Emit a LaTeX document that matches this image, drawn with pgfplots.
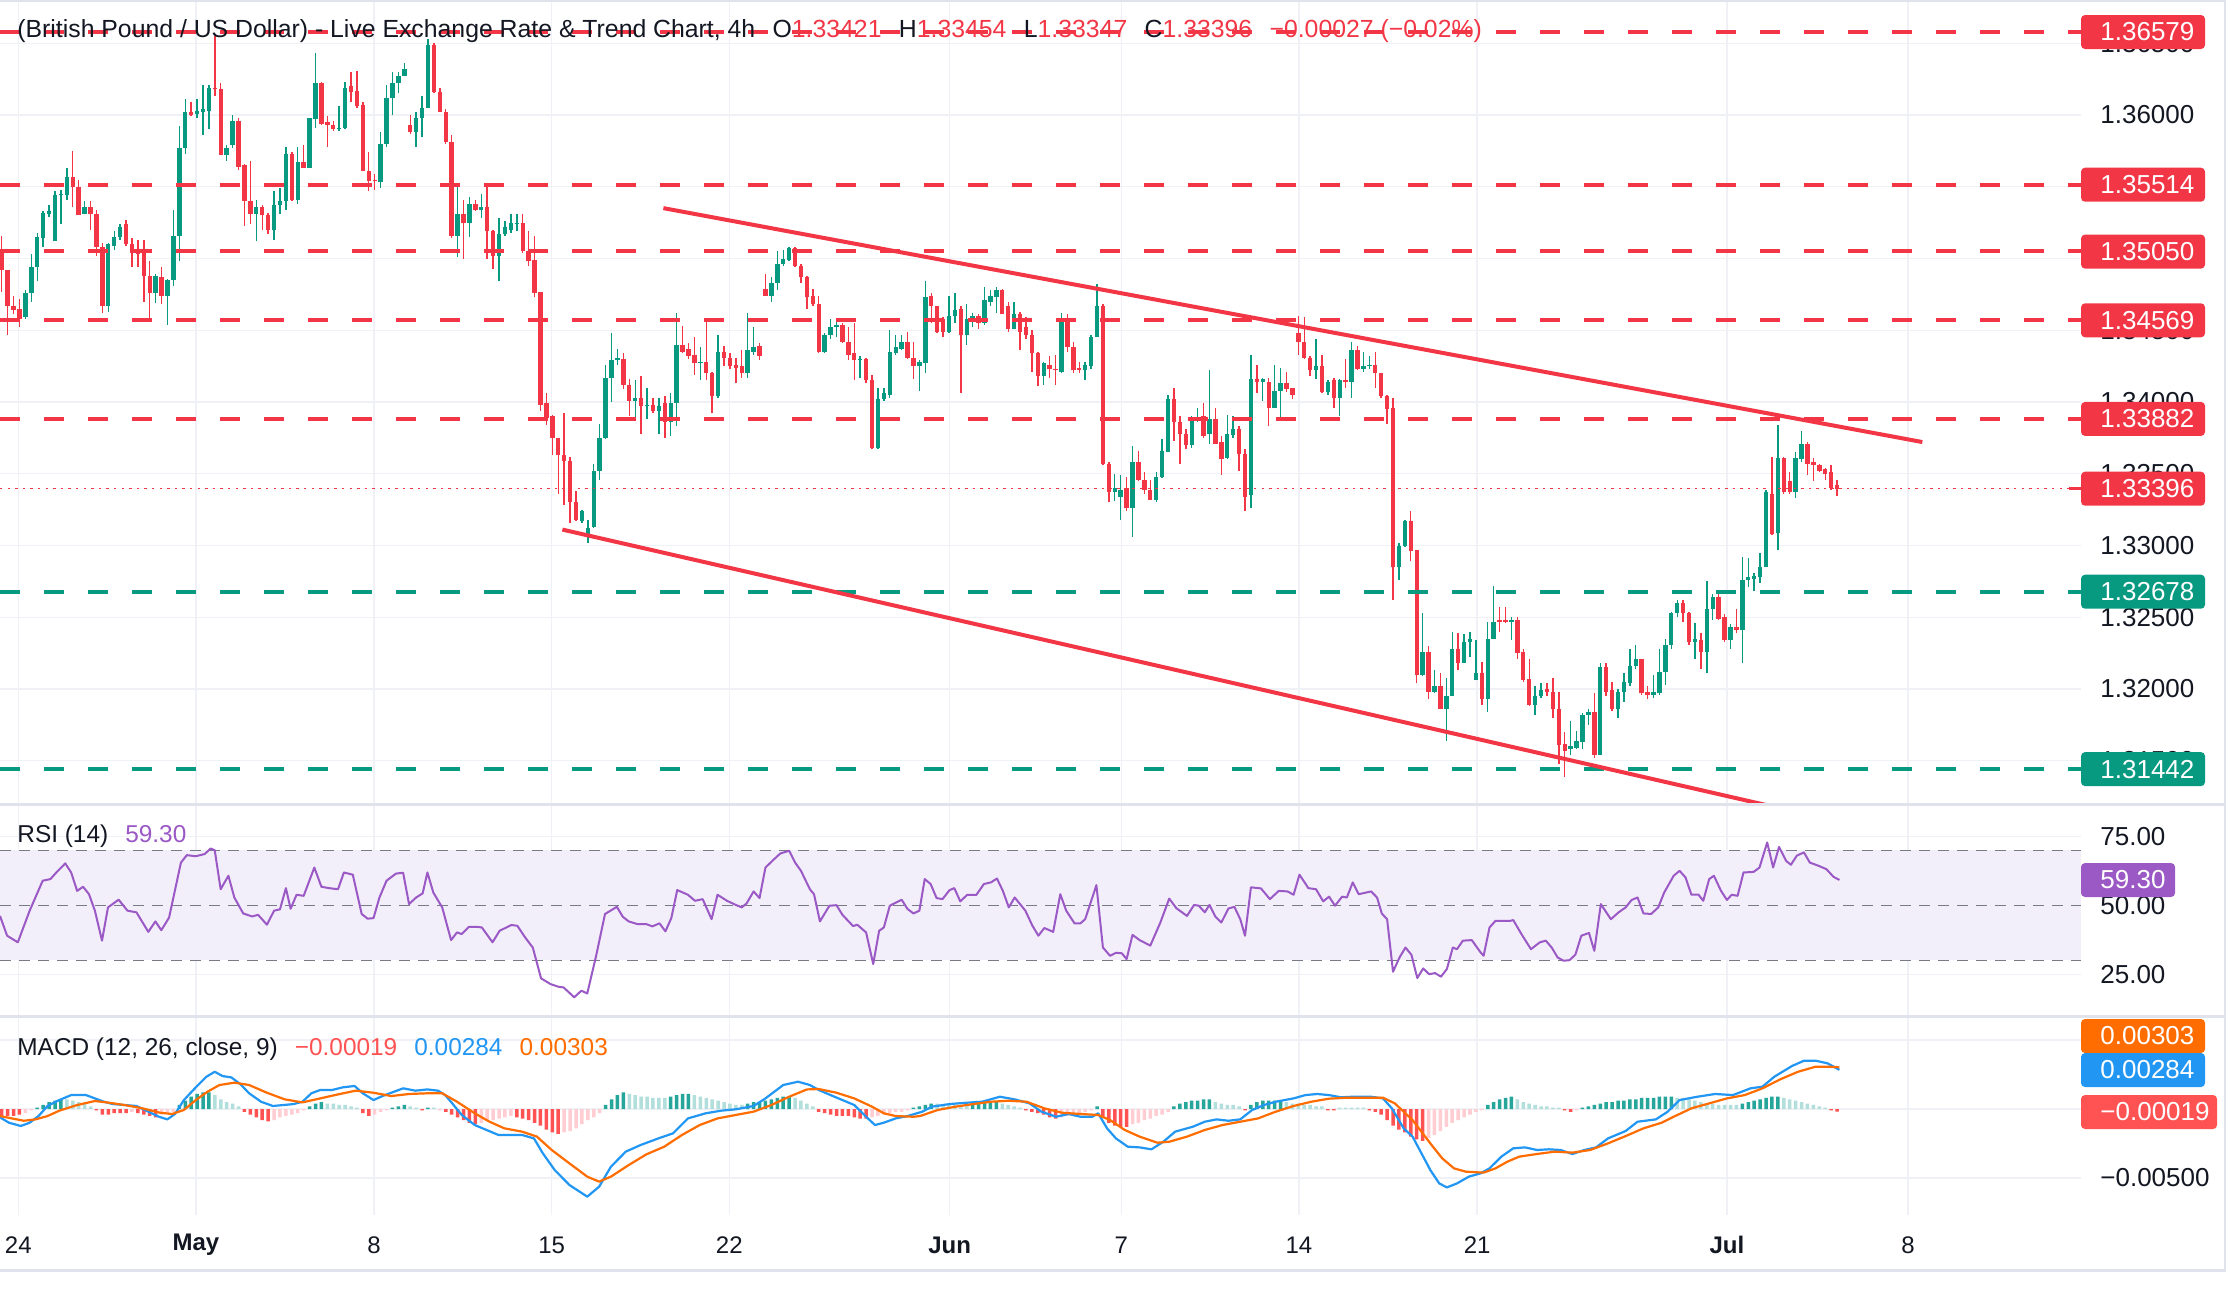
\documentclass[border=0pt]{standalone}
\usepackage{fontspec}
\setmainfont{Liberation Sans}
\usepackage{pgfplots}
\usepackage{pgfplotstable}
\pgfplotsset{compat=1.18}
\definecolor{upc}{HTML}{089981}
\definecolor{dnc}{HTML}{F23645}
\definecolor{txt}{HTML}{131722}
\definecolor{gridc}{HTML}{EFF1F6}
\definecolor{divc}{HTML}{E0E3EB}
\definecolor{rsic}{HTML}{9B59C6}
\definecolor{rsibg}{HTML}{F2EEFA}
\definecolor{rsid}{HTML}{787B86}
\definecolor{macdc}{HTML}{2196F3}
\definecolor{sigc}{HTML}{FF6D00}
\definecolor{hd}{HTML}{26A69A}
\definecolor{hl}{HTML}{B2DFDB}
\definecolor{hr}{HTML}{FF5252}
\definecolor{hp}{HTML}{FFCDD2}
\newcommand\tagfont{\fontsize{13}{15}\selectfont}
\newcommand\lblfont{\fontsize{12.2}{14}\selectfont}

\pgfplotstableread{
i O H L C
0 1.3504 1.3516 1.3477 1.3492
1 1.3492 1.3492 1.3447 1.3467
2 1.3467 1.3474 1.3461 1.3464
3 1.3465 1.3472 1.3452 1.3458
4 1.3459 1.3478 1.3458 1.3476
5 1.3476 1.3503 1.3470 1.3494
6 1.3494 1.3518 1.3484 1.3515
7 1.3514 1.3533 1.3508 1.3532
8 1.3531 1.3537 1.3529 1.3533
9 1.3512 1.3547 1.3512 1.3544
10 1.3544 1.3548 1.3524 1.3545
11 1.3544 1.3563 1.3541 1.3557
12 1.3557 1.3575 1.3536 1.3550
13 1.3550 1.3555 1.3530 1.3530
14 1.3531 1.3540 1.3531 1.3536
15 1.3536 1.3540 1.3520 1.3531
16 1.3531 1.3534 1.3502 1.3508
17 1.3508 1.3511 1.3462 1.3467
18 1.3467 1.3511 1.3463 1.3510
19 1.3509 1.3519 1.3506 1.3515
20 1.3515 1.3524 1.3513 1.3522
21 1.3524 1.3527 1.3509 1.3510
22 1.3510 1.3514 1.3494 1.3504
23 1.3505 1.3513 1.3494 1.3503
24 1.3504 1.3513 1.3470 1.3488
25 1.3488 1.3498 1.3456 1.3476
26 1.3476 1.3489 1.3469 1.3488
27 1.3487 1.3494 1.3468 1.3474
28 1.3474 1.3486 1.3454 1.3485
29 1.3485 1.3534 1.3481 1.3516
30 1.3516 1.3592 1.3498 1.3577
31 1.3577 1.3611 1.3573 1.3602
32 1.3602 1.3609 1.3599 1.3600
33 1.3601 1.3611 1.3598 1.3603
34 1.3602 1.3621 1.3586 1.3604
35 1.3603 1.3621 1.3590 1.3619
36 1.3619 1.3655 1.3613 1.3618
37 1.3618 1.3622 1.3572 1.3572
38 1.3572 1.3579 1.3568 1.3577
39 1.3579 1.3600 1.3577 1.3596
40 1.3596 1.3598 1.3562 1.3564
41 1.3565 1.3566 1.3523 1.3540
42 1.3540 1.3568 1.3524 1.3531
43 1.3531 1.3541 1.3512 1.3536
44 1.3536 1.3537 1.3520 1.3530
45 1.3530 1.3532 1.3517 1.3520
46 1.3520 1.3547 1.3513 1.3537
47 1.3537 1.3549 1.3531 1.3540
48 1.3540 1.3578 1.3534 1.3573
49 1.3573 1.3574 1.3540 1.3541
50 1.3541 1.3578 1.3538 1.3567
51 1.3567 1.3579 1.3563 1.3563
52 1.3563 1.3598 1.3563 1.3598
53 1.3597 1.3643 1.3591 1.3622
54 1.3622 1.3623 1.3593 1.3594
55 1.3595 1.3599 1.3578 1.3593
56 1.3593 1.3596 1.3589 1.3590
57 1.3590 1.3606 1.3589 1.3591
58 1.3591 1.3623 1.3590 1.3619
59 1.3620 1.3630 1.3609 1.3616
60 1.3617 1.3631 1.3605 1.3606
61 1.3607 1.3609 1.3561 1.3561
62 1.3561 1.3574 1.3547 1.3554
63 1.3555 1.3559 1.3548 1.3554
64 1.3553 1.3588 1.3549 1.3580
65 1.3580 1.3621 1.3578 1.3612
66 1.3612 1.3630 1.3600 1.3622
67 1.3622 1.3630 1.3615 1.3627
68 1.3627 1.3636 1.3627 1.3632
69 1.3593 1.3600 1.3587 1.3588
70 1.3588 1.3602 1.3578 1.3598
71 1.3598 1.3613 1.3585 1.3605
72 1.3605 1.3653 1.3605 1.3649
73 1.3649 1.3650 1.3615 1.3616
74 1.3616 1.3619 1.3602 1.3602
75 1.3602 1.3604 1.3580 1.3581
76 1.3581 1.3586 1.3514 1.3516
77 1.3516 1.3550 1.3501 1.3531
78 1.3531 1.3541 1.3500 1.3525
79 1.3525 1.3543 1.3515 1.3538
80 1.3538 1.3541 1.3533 1.3534
81 1.3534 1.3545 1.3528 1.3536
82 1.3536 1.3550 1.3500 1.3519
83 1.3519 1.3520 1.3493 1.3502
84 1.3502 1.3528 1.3484 1.3517
85 1.3517 1.3526 1.3516 1.3522
86 1.3520 1.3531 1.3518 1.3525
87 1.3524 1.3531 1.3519 1.3525
88 1.3525 1.3531 1.3504 1.3505
89 1.3505 1.3519 1.3495 1.3498
90 1.3499 1.3516 1.3473 1.3476
91 1.3477 1.3477 1.3394 1.3398
92 1.3399 1.3406 1.3384 1.3389
93 1.3390 1.3391 1.3363 1.3375
94 1.3375 1.3375 1.3336 1.3363
95 1.3363 1.3392 1.3328 1.3359
96 1.3359 1.3362 1.3316 1.3330
97 1.3330 1.3338 1.3317 1.3318
98 1.3317 1.3325 1.3316 1.3324
99 1.3308 1.3318 1.3302 1.3312
100 1.3313 1.3357 1.3312 1.3352
101 1.3352 1.3385 1.3346 1.3375
102 1.3375 1.3426 1.3374 1.3417
103 1.3417 1.3448 1.3400 1.3429
104 1.3429 1.3437 1.3426 1.3431
105 1.3430 1.3434 1.3409 1.3412
106 1.3412 1.3416 1.3390 1.3401
107 1.3401 1.3415 1.3387 1.3403
108 1.3403 1.3418 1.3378 1.3397
109 1.3397 1.3410 1.3388 1.3398
110 1.3398 1.3403 1.3392 1.3394
111 1.3394 1.3403 1.3378 1.3397
112 1.3399 1.3404 1.3375 1.3386
113 1.3386 1.3406 1.3376 1.3399
114 1.3399 1.3462 1.3383 1.3440
115 1.3440 1.3453 1.3434 1.3435
116 1.3437 1.3441 1.3430 1.3432
117 1.3433 1.3445 1.3419 1.3427
118 1.3427 1.3438 1.3415 1.3428
119 1.3428 1.3456 1.3415 1.3420
120 1.3420 1.3421 1.3392 1.3404
121 1.3404 1.3447 1.3403 1.3435
122 1.3435 1.3439 1.3425 1.3431
123 1.3431 1.3434 1.3423 1.3425
124 1.3426 1.3431 1.3413 1.3424
125 1.3425 1.3436 1.3417 1.3420
126 1.3420 1.3462 1.3417 1.3436
127 1.3435 1.3452 1.3433 1.3438
128 1.3439 1.3441 1.3429 1.3432
129 1.3479 1.3489 1.3474 1.3474
130 1.3474 1.3487 1.3470 1.3483
131 1.3483 1.3505 1.3478 1.3496
132 1.3496 1.3506 1.3495 1.3500
133 1.3499 1.3508 1.3498 1.3507
134 1.3507 1.3508 1.3494 1.3495
135 1.3495 1.3496 1.3483 1.3487
136 1.3487 1.3488 1.3465 1.3473
137 1.3474 1.3479 1.3467 1.3468
138 1.3468 1.3474 1.3434 1.3435
139 1.3435 1.3448 1.3434 1.3447
140 1.3447 1.3458 1.3444 1.3452
141 1.3452 1.3458 1.3445 1.3454
142 1.3454 1.3455 1.3441 1.3442
143 1.3442 1.3452 1.3429 1.3433
144 1.3434 1.3455 1.3415 1.3429
145 1.3429 1.3432 1.3417 1.3430
146 1.3430 1.3431 1.3413 1.3415
147 1.3415 1.3419 1.3367 1.3368
148 1.3368 1.3410 1.3367 1.3402
149 1.3402 1.3410 1.3401 1.3406
150 1.3405 1.3450 1.3403 1.3435
151 1.3434 1.3447 1.3433 1.3438
152 1.3437 1.3447 1.3436 1.3442
153 1.3442 1.3449 1.3430 1.3431
154 1.3431 1.3442 1.3416 1.3425
155 1.3425 1.3429 1.3408 1.3428
156 1.3427 1.3484 1.3420 1.3473
157 1.3474 1.3476 1.3455 1.3467
158 1.3467 1.3467 1.3448 1.3449
159 1.3458 1.3459 1.3445 1.3449
160 1.3449 1.3474 1.3448 1.3460
161 1.3460 1.3476 1.3455 1.3464
162 1.3465 1.3467 1.3406 1.3447
163 1.3447 1.3468 1.3440 1.3458
164 1.3458 1.3462 1.3452 1.3460
165 1.3460 1.3461 1.3451 1.3455
166 1.3455 1.3480 1.3454 1.3471
167 1.3470 1.3478 1.3467 1.3474
168 1.3473 1.3480 1.3462 1.3478
169 1.3478 1.3479 1.3461 1.3461
170 1.3467 1.3470 1.3449 1.3451
171 1.3451 1.3470 1.3451 1.3461
172 1.3461 1.3463 1.3436 1.3449
173 1.3452 1.3459 1.3444 1.3447
174 1.3447 1.3450 1.3421 1.3434
175 1.3434 1.3435 1.3411 1.3418
176 1.3418 1.3428 1.3412 1.3427
177 1.3426 1.3432 1.3417 1.3423
178 1.3423 1.3433 1.3412 1.3422
179 1.3421 1.3462 1.3420 1.3457
180 1.3457 1.3461 1.3435 1.3438
181 1.3438 1.3442 1.3420 1.3422
182 1.3424 1.3428 1.3420 1.3422
183 1.3422 1.3428 1.3415 1.3426
184 1.3425 1.3447 1.3423 1.3445
185 1.3445 1.3482 1.3445 1.3467
186 1.3467 1.3468 1.3356 1.3357
187 1.3357 1.3358 1.3330 1.3337
188 1.3337 1.3350 1.3331 1.3340
189 1.3334 1.3349 1.3318 1.3339
190 1.3340 1.3348 1.3324 1.3326
191 1.3326 1.3369 1.3306 1.3358
192 1.3358 1.3366 1.3345 1.3346
193 1.3346 1.3351 1.3336 1.3339
194 1.3339 1.3346 1.3332 1.3332
195 1.3332 1.3351 1.3330 1.3348
196 1.3348 1.3374 1.3347 1.3366
197 1.3365 1.3405 1.3365 1.3402
198 1.3402 1.3410 1.3373 1.3386
199 1.3386 1.3390 1.3357 1.3378
200 1.3378 1.3381 1.3367 1.3370
201 1.3370 1.3390 1.3368 1.3388
202 1.3388 1.3396 1.3386 1.3389
203 1.3390 1.3399 1.3375 1.3376
204 1.3378 1.3422 1.3371 1.3388
205 1.3388 1.3396 1.3371 1.3371
206 1.3372 1.3376 1.3349 1.3360
207 1.3361 1.3391 1.3360 1.3378
208 1.3377 1.3390 1.3375 1.3381
209 1.3381 1.3383 1.3352 1.3364
210 1.3364 1.3367 1.3324 1.3334
211 1.3335 1.3433 1.3326 1.3416
212 1.3416 1.3426 1.3406 1.3414
213 1.3414 1.3417 1.3401 1.3416
214 1.3414 1.3417 1.3383 1.3396
215 1.3396 1.3426 1.3396 1.3408
216 1.3408 1.3424 1.3388 1.3413
217 1.3413 1.3421 1.3407 1.3409
218 1.3410 1.3410 1.3402 1.3405
219 1.3448 1.3460 1.3433 1.3442
220 1.3442 1.3459 1.3430 1.3431
221 1.3431 1.3432 1.3418 1.3422
222 1.3422 1.3444 1.3416 1.3425
223 1.3425 1.3433 1.3406 1.3407
224 1.3407 1.3415 1.3405 1.3414
225 1.3415 1.3417 1.3396 1.3403
226 1.3403 1.3416 1.3390 1.3415
227 1.3415 1.3430 1.3410 1.3414
228 1.3414 1.3442 1.3403 1.3436
229 1.3436 1.3439 1.3422 1.3423
230 1.3423 1.3435 1.3421 1.3425
231 1.3425 1.3432 1.3423 1.3426
232 1.3426 1.3435 1.3410 1.3420
233 1.3420 1.3420 1.3403 1.3404
234 1.3404 1.3405 1.3385 1.3395
235 1.3396 1.3403 1.3262 1.3285
236 1.3285 1.3302 1.3276 1.3300
237 1.3300 1.3318 1.3299 1.3317
238 1.3317 1.3324 1.3289 1.3296
239 1.3297 1.3297 1.3204 1.3210
240 1.3210 1.3253 1.3209 1.3226
241 1.3226 1.3230 1.3193 1.3198
242 1.3198 1.3213 1.3197 1.3202
243 1.3202 1.3211 1.3186 1.3186
244 1.3186 1.3208 1.3164 1.3195
245 1.3195 1.3240 1.3195 1.3228
246 1.3228 1.3239 1.3213 1.3218
247 1.3218 1.3238 1.3218 1.3233
248 1.3233 1.3240 1.3222 1.3235
249 1.3206 1.3234 1.3206 1.3211
250 1.3211 1.3219 1.3189 1.3193
251 1.3193 1.3247 1.3184 1.3235
252 1.3235 1.3272 1.3235 1.3247
253 1.3248 1.3257 1.3240 1.3247
254 1.3248 1.3257 1.3246 1.3247
255 1.3247 1.3250 1.3234 1.3248
256 1.3248 1.3250 1.3221 1.3225
257 1.3226 1.3228 1.3205 1.3206
258 1.3207 1.3221 1.3188 1.3189
259 1.3189 1.3202 1.3182 1.3195
260 1.3195 1.3204 1.3194 1.3199
261 1.3200 1.3204 1.3195 1.3198
262 1.3198 1.3208 1.3180 1.3186
263 1.3186 1.3198 1.3148 1.3161
264 1.3162 1.3170 1.3139 1.3157
265 1.3158 1.3178 1.3154 1.3160
266 1.3159 1.3171 1.3158 1.3164
267 1.3163 1.3183 1.3158 1.3182
268 1.3182 1.3186 1.3175 1.3184
269 1.3184 1.3197 1.3152 1.3154
270 1.3154 1.3218 1.3154 1.3215
271 1.3215 1.3218 1.3195 1.3198
272 1.3199 1.3205 1.3185 1.3186
273 1.3186 1.3200 1.3180 1.3198
274 1.3198 1.3211 1.3191 1.3205
275 1.3204 1.3228 1.3202 1.3216
276 1.3216 1.3231 1.3214 1.3221
277 1.3221 1.3221 1.3196 1.3197
278 1.3198 1.3202 1.3193 1.3196
279 1.3196 1.3210 1.3194 1.3198
280 1.3197 1.3228 1.3196 1.3212
281 1.3212 1.3235 1.3203 1.3231
282 1.3231 1.3254 1.3228 1.3253
283 1.3253 1.3262 1.3250 1.3260
284 1.3260 1.3262 1.3247 1.3253
285 1.3253 1.3254 1.3231 1.3233
286 1.3233 1.3246 1.3221 1.3235
287 1.3234 1.3239 1.3214 1.3226
288 1.3226 1.3275 1.3211 1.3256
289 1.3256 1.3266 1.3248 1.3264
290 1.3264 1.3266 1.3248 1.3249
291 1.3250 1.3252 1.3233 1.3234
292 1.3234 1.3245 1.3228 1.3243
293 1.3243 1.3256 1.3239 1.3241
294 1.3241 1.3292 1.3218 1.3276
295 1.3276 1.3291 1.3271 1.3278
296 1.3277 1.3281 1.3268 1.3279
297 1.3278 1.3295 1.3274 1.3285
298 1.3285 1.3339 1.3285 1.3337
299 1.3336 1.3362 1.3307 1.3308
300 1.3309 1.3384 1.3297 1.3361
301 1.3361 1.3362 1.3336 1.3337
302 1.3345 1.3351 1.3336 1.3337
303 1.3337 1.3365 1.3333 1.3361
304 1.3360 1.3380 1.3358 1.3371
305 1.3371 1.3372 1.3349 1.3357
306 1.3358 1.3361 1.3345 1.3356
307 1.3356 1.3357 1.3351 1.3352
308 1.3353 1.3354 1.3346 1.3350
309 1.3351 1.3356 1.3339 1.3340
310 1.33421 1.33454 1.33347 1.33396
}\candles

\pgfplotsset{tv/.style={scale only axis, width=1040.5pt, xmin=-0.29, xmax=351.2,
  anchor=north west, axis line style={draw=none}, major tick length=0pt,
  scaled y ticks=false, scaled x ticks=false,
  xtick={2.8,32.8,62.9,92.9,122.9,160.1,189.1,219.1,249.2,291.4,322.0},
  xticklabels={}, xmajorgrids, ymajorgrids,
  grid style={draw=gridc, line width=0.7pt},
  yticklabel pos=right,
  yticklabel style={anchor=west, inner sep=0pt, xshift=9.5pt, font=\tagfont, text=txt}},
  lvl/.style={line width=1.9pt, dash pattern=on 10pt off 12pt},
  candle/.style={draw=none, mark=none}}

\begin{document}
\begin{tikzpicture}[x=0.5pt, y=0.5pt]
\fill[white] (0,0) rectangle (2226,-1292);
\useasboundingbox (0,0) rectangle (2226,-1292);

% ---------------- price panel ----------------
\begin{axis}[tv, at={(0pt,0pt)}, height=401.5pt, ymin=1.312056, ymax=1.368014, clip mode=individual,
  ytick={1.315,1.32,1.325,1.33,1.335,1.34,1.345,1.35,1.355,1.36,1.365},
  yticklabels={1.31500,1.32000,1.32500,1.33000,1.33500,1.34000,1.34500,1.35000,1.35500,1.36000,1.36500}]
% wicks
\addplot[candle, restrict expr to domain={\thisrow{C}-\thisrow{O}}{0:1},
  error bars/.cd, y dir=plus, y explicit, error mark=none, error bar style={line width=0.7pt, draw=upc}]
  table[x=i, y=L, y error plus expr={\thisrow{H}-\thisrow{L}}] {\candles};
\addplot[candle, restrict expr to domain={\thisrow{C}-\thisrow{O}}{-1:-0.000001},
  error bars/.cd, y dir=plus, y explicit, error mark=none, error bar style={line width=0.7pt, draw=dnc}]
  table[x=i, y=L, y error plus expr={\thisrow{H}-\thisrow{L}}] {\candles};
% bodies
\addplot[candle, restrict expr to domain={\thisrow{C}-\thisrow{O}}{0:1},
  error bars/.cd, y dir=plus, y explicit, error mark=none, error bar style={line width=2.2pt, draw=upc}]
  table[x=i, y expr={min(\thisrow{O},\thisrow{C})}, y error plus expr={max(abs(\thisrow{C}-\thisrow{O}),0.00007)}] {\candles};
\addplot[candle, restrict expr to domain={\thisrow{C}-\thisrow{O}}{-1:-0.000001},
  error bars/.cd, y dir=plus, y explicit, error mark=none, error bar style={line width=2.2pt, draw=dnc}]
  table[x=i, y expr={min(\thisrow{O},\thisrow{C})}, y error plus expr={max(abs(\thisrow{C}-\thisrow{O}),0.00007)}] {\candles};
% levels
\addplot[dnc, lvl] coordinates {(-0.29,1.36579)(351.2,1.36579)};
\addplot[dnc, lvl] coordinates {(-0.29,1.35514)(351.2,1.35514)};
\addplot[dnc, lvl] coordinates {(-0.29,1.35050)(351.2,1.35050)};
\addplot[dnc, lvl] coordinates {(-0.29,1.34569)(351.2,1.34569)};
\addplot[dnc, lvl] coordinates {(-0.29,1.33882)(351.2,1.33882)};
\addplot[upc, lvl] coordinates {(-0.29,1.32678)(351.2,1.32678)};
\addplot[upc, lvl] coordinates {(-0.29,1.31442)(351.2,1.31442)};
\addplot[dnc, line width=0.7pt, dash pattern=on 1.2pt off 2.6pt] coordinates {(-0.29,1.33396)(351.2,1.33396)};
% trend lines
\addplot[dnc, line width=2pt] coordinates {(111.76,1.35351)(324.4,1.33721)};
\addplot[dnc, line width=2pt] coordinates {(94.70,1.33111)(303.8,1.31137)};
\end{axis}

% ---------------- RSI panel ----------------
\begin{axis}[tv, at={(0pt,-402.5pt)}, height=105pt, ymin=10.16, ymax=86.53,
  ytick={25,50,75}, yticklabels={25.00,50.00,75.00}]
\fill[rsibg] (axis cs:-0.29,30) rectangle (axis cs:351.2,70);
\addplot[rsid, line width=0.9pt, dash pattern=on 5.3pt off 4.2pt] coordinates {(-0.29,70)(351.2,70)};
\addplot[rsid, line width=0.9pt, dash pattern=on 5.3pt off 4.2pt] coordinates {(-0.29,50)(351.2,50)};
\addplot[rsid, line width=0.9pt, dash pattern=on 5.3pt off 4.2pt] coordinates {(-0.29,30)(351.2,30)};
\addplot[rsic, line width=1pt, line join=round] coordinates {
(-0.29,46.2)(0.91,39.0)(2.72,36.6)(4.72,48.1)(6.92,59.0)(8.23,59.6)(9.23,62.0)(10.73,65.3)(11.73,62.0)(12.74,55.3)(13.74,56.8)(14.74,54.1)(15.74,48.1)(16.94,37.2)(17.95,49.3)(19.75,52.1)(21.25,48.1)(22.76,47.5)(24.76,40.4)(25.96,44.2)(26.96,41.0)(28.27,45.6)(30.27,65.6)(31.27,68.3)(32.78,67.9)(34.28,68.7)(35.28,70.7)(35.98,70.1)(36.98,55.9)(38.29,60.8)(39.29,52.9)(40.79,47.1)(42.30,46.0)(43.30,46.6)(44.80,43.0)(46.0,48.1)(47.0,48.6)(48.0,56.3)(48.8,48.8)(49.8,53.9)(51.0,53.5)(52.8,63.8)(54.0,56.8)(55.3,56.3)(56.8,55.9)(57.8,62.0)(59.3,61.2)(60.8,46.9)(61.8,45.2)(62.8,45.4)(63.8,52.9)(65.0,59.0)(66.6,61.6)(67.8,61.9)(68.8,50.5)(70.0,52.9)(71.1,54.4)(71.9,62.0)(72.9,54.7)(74.4,49.3)(75.9,37.4)(76.9,40.2)(77.7,39.6)(78.9,42.2)(80.4,42.2)(81.1,42.0)(82.9,36.6)(84.1,40.8)(86.1,42.9)(87.1,42.6)(88.4,38.4)(89.7,34.7)(91.1,23.5)(92.7,21.4)(94.1,20.4)(94.9,20.2)(96.7,16.6)(97.9,19.0)(98.9,18.0)(100.4,31.7)(101.9,46.9)(103.9,49.5)(104.9,45.9)(105.9,44.2)(107.4,43.2)(108.9,43.2)(109.9,42.4)(111.1,43.5)(112.1,40.6)(113.1,45.4)(114.1,55.6)(115.9,53.9)(117.1,51.7)(118.4,52.3)(119.9,45.0)(120.9,53.9)(122.5,51.7)(124.0,50.2)(125.0,49.3)(125.8,50.7)(127.0,55.1)(128.0,52.7)(129.0,63.8)(130.5,66.9)(131.5,68.9)(133.0,69.9)(134.0,65.6)(135.0,62.6)(136.5,55.9)(137.2,54.1)(138.2,44.2)(139.8,49.9)(141.0,50.1)(142.0,46.6)(143.8,42.5)(144.5,43.0)(146.0,40.2)(147.2,28.7)(148.2,40.8)(149.0,42.0)(150.0,49.9)(152.0,52.1)(153.0,48.7)(154.0,47.1)(155.0,48.1)(155.9,59.6)(156.9,57.8)(157.9,52.7)(158.9,52.3)(160.1,55.6)(160.9,56.3)(161.9,51.5)(163.1,53.9)(164.6,53.8)(165.9,57.8)(167.1,58.4)(168.1,59.8)(169.1,55.3)(170.1,49.3)(171.1,52.9)(172.9,48.1)(174.1,42.6)(175.1,39.0)(176.1,41.8)(177.6,40.4)(178.8,54.1)(179.8,48.1)(181.2,43.5)(182.2,43.5)(183.0,45.0)(184.9,57.4)(186.0,34.7)(187.2,31.7)(188.2,32.8)(189.2,32.6)(190.0,30.5)(191.0,39.3)(192.2,37.4)(194.0,35.4)(195.7,43.8)(197.2,52.5)(198.4,49.0)(200.2,46.2)(201.4,50.2)(202.2,49.9)(203.2,47.5)(204.0,50.2)(205.0,45.9)(206.0,43.8)(207.2,48.9)(208.2,49.5)(209.2,45.0)(210.0,39.0)(211.0,56.6)(212.7,56.2)(214.2,52.3)(215.7,55.3)(217.2,55.1)(218.2,53.9)(219.2,61.2)(220.7,56.3)(222.0,55.9)(223.2,51.5)(224.2,53.2)(225.2,49.9)(226.4,53.2)(227.2,52.9)(228.2,58.4)(229.2,54.1)(231.3,55.1)(232.3,52.9)(233.1,47.1)(234.0,45.0)(235.0,25.9)(236.1,31.1)(237.1,34.7)(238.1,32.1)(239.1,23.6)(240.1,27.1)(241.1,25.0)(242.1,25.4)(243.1,24.1)(244.1,26.9)(245.1,34.7)(245.8,34.1)(246.8,37.2)(248.3,37.4)(249.8,32.9)(250.3,31.7)(251.3,42.0)(252.3,44.4)(254.8,44.4)(255.3,44.7)(256.8,39.2)(258.3,34.1)(259.8,36.6)(260.8,37.2)(261.8,34.7)(262.8,31.1)(263.8,29.9)(264.8,30.1)(265.8,32.1)(266.8,39.0)(268.1,40.0)(269.0,33.5)(270.1,50.5)(271.8,45.0)(273.1,47.5)(274.3,49.3)(275.3,52.0)(276.3,52.9)(277.3,47.1)(278.6,46.9)(279.8,49.3)(280.8,54.7)(282.4,60.8)(283.4,62.6)(284.4,60.2)(285.4,53.9)(286.6,53.9)(287.4,51.7)(288.4,59.6)(289.2,60.8)(290.4,55.3)(291.4,52.0)(292.2,53.9)(293.2,53.5)(294.2,62.0)(295.9,62.2)(296.9,63.8)(298.2,72.9)(299.2,63.8)(300.2,71.3)(301.4,66.2)(302.2,64.8)(303.2,68.1)(304.4,69.3)(305.4,65.6)(306.9,64.4)(308.2,63.2)(309.4,60.4)(310.4,59.3)};
\end{axis}

% ---------------- MACD panel ----------------
\begin{axis}[tv, at={(0pt,-508.5pt)}, height=99pt, ymin=-0.007681, ymax=0.006667,
  ytick={-0.005,0,0.005}, yticklabels={−0.00500,0.00000,0.00500},
  xticklabels={24,\textbf{May},8,15,22,\textbf{Jun},7,14,21,\textbf{Jul},8},
  xticklabel style={anchor=center, inner sep=0pt, yshift=-15pt, font=\fontsize{12}{14}\selectfont, text=txt}]
\addplot[ybar, bar width=1.75pt, bar shift=0pt, fill=hr, draw=none] coordinates {
(0,-0.0005)(1,-0.0005)(2,-0.0005)(3,-0.0004)(16,-0.0001)(17,-0.0004)(18,-0.0004)(19,-0.0003)(20,-0.0003)(21,-0.0003)(23,-0.0003)(24,-0.0004)(25,-0.0005)(26,-0.0006)(41,-0.0002)(42,-0.0004)(43,-0.0006)(44,-0.0008)(45,-0.0009)(61,-0.0003)(62,-0.0005)(71,-0.0001)(75,-0.0002)(76,-0.0004)(77,-0.0006)(78,-0.0008)(79,-0.0010)(80,-0.0011)(87,-0.0006)(88,-0.0007)(89,-0.0008)(90,-0.0010)(91,-0.0012)(92,-0.0015)(93,-0.0017)(94,-0.0018)(138,-0.0002)(139,-0.0003)(140,-0.0004)(141,-0.0005)(142,-0.0005)(143,-0.0005)(144,-0.0006)(145,-0.0007)(146,-0.0007)(173,-0.0001)(174,-0.0002)(175,-0.0003)(176,-0.0004)(177,-0.0006)(178,-0.0007)(186,-0.0006)(187,-0.0010)(188,-0.0012)(189,-0.0013)(190,-0.0013)(210,-0.0001)(224,-0.0001)(225,-0.0001)(231,-0.0001)(232,-0.0002)(233,-0.0004)(234,-0.0008)(235,-0.0012)(236,-0.0015)(237,-0.0017)(238,-0.0020)(239,-0.0022)(240,-0.0023)(264,-0.0001)(265,-0.0002)(309,-0.0001)(310,-0.00019)};
\addplot[ybar, bar width=1.75pt, bar shift=0pt, fill=hp, draw=none] coordinates {
(4,-0.0003)(5,-0.0001)(22,-0.0002)(27,-0.0004)(28,-0.0003)(29,-0.0002)(46,-0.0008)(47,-0.0006)(48,-0.0005)(49,-0.0004)(50,-0.0003)(51,-0.0001)(63,-0.0004)(64,-0.0002)(65,-0.0001)(74,-0.0001)(81,-0.0010)(82,-0.0009)(83,-0.0008)(84,-0.0007)(85,-0.0006)(86,-0.0005)(95,-0.0017)(96,-0.0016)(97,-0.0014)(98,-0.0011)(99,-0.0008)(100,-0.0006)(101,-0.0003)(147,-0.0006)(148,-0.0005)(149,-0.0004)(150,-0.0003)(151,-0.0002)(152,-0.0002)(153,-0.0001)(179,-0.0006)(180,-0.0005)(181,-0.0004)(182,-0.0003)(183,-0.0002)(184,-0.0001)(191,-0.0011)(192,-0.0010)(193,-0.0008)(194,-0.0007)(195,-0.0005)(196,-0.0004)(197,-0.0002)(241,-0.0021)(242,-0.0019)(243,-0.0016)(244,-0.0013)(245,-0.0010)(246,-0.0008)(247,-0.0006)(248,-0.0004)(249,-0.0002)(250,-0.0001)(266,-0.0001)};
\addplot[ybar, bar width=1.75pt, bar shift=0pt, fill=hd, draw=none] coordinates {
(6,0.0001)(7,0.0003)(8,0.0005)(9,0.0006)(10,0.0007)(30,0.0003)(31,0.0006)(32,0.0009)(33,0.0011)(34,0.0012)(35,0.0012)(52,0.0002)(53,0.0004)(54,0.0005)(66,0.0001)(67,0.0002)(68,0.0003)(72,0.0001)(102,0.0003)(103,0.0007)(104,0.0010)(105,0.0012)(113,0.0009)(114,0.0010)(115,0.0011)(116,0.0011)(126,0.0004)(127,0.0005)(128,0.0005)(129,0.0006)(130,0.0007)(131,0.0008)(132,0.0009)(133,0.0009)(154,0.0001)(155,0.0002)(156,0.0003)(157,0.0004)(164,0.0004)(165,0.0004)(166,0.0005)(167,0.0005)(168,0.0005)(185,0.0002)(198,0.0002)(199,0.0004)(200,0.0005)(201,0.0006)(202,0.0006)(203,0.0007)(204,0.0007)(211,0.0003)(212,0.0005)(213,0.0006)(214,0.0006)(215,0.0006)(216,0.0006)(251,0.0003)(252,0.0005)(253,0.0007)(254,0.0008)(255,0.0009)(267,0.0001)(268,0.0002)(269,0.0003)(270,0.0004)(271,0.0005)(272,0.0005)(273,0.0006)(274,0.0006)(275,0.0007)(276,0.0007)(277,0.0008)(278,0.0008)(279,0.0008)(280,0.0009)(281,0.0009)(282,0.0009)(294,0.0004)(295,0.0005)(296,0.0006)(297,0.0007)(298,0.0008)(299,0.0009)(300,0.0009)};
\addplot[ybar, bar width=1.75pt, bar shift=0pt, fill=hl, draw=none] coordinates {
(11,0.0007)(12,0.0006)(13,0.0005)(14,0.0004)(15,0.0002)(36,0.0010)(37,0.0007)(38,0.0005)(39,0.0004)(40,0.0002)(55,0.0004)(56,0.0004)(57,0.0003)(58,0.0003)(59,0.0002)(60,0.0001)(69,0.0002)(70,0.0001)(73,0.0001)(106,0.0011)(107,0.0010)(108,0.0009)(109,0.0009)(110,0.0008)(111,0.0008)(112,0.0008)(117,0.0010)(118,0.0009)(119,0.0008)(120,0.0007)(121,0.0006)(122,0.0005)(123,0.0004)(124,0.0003)(125,0.0003)(134,0.0008)(135,0.0006)(136,0.0004)(137,0.0002)(158,0.0004)(159,0.0003)(160,0.0003)(161,0.0003)(162,0.0003)(163,0.0003)(169,0.0004)(170,0.0003)(171,0.0002)(172,0.0001)(205,0.0005)(206,0.0004)(207,0.0003)(208,0.0003)(209,0.0002)(217,0.0005)(218,0.0004)(219,0.0004)(220,0.0003)(221,0.0003)(222,0.0002)(223,0.0002)(226,0.0001)(227,0.0001)(228,0.0001)(229,0.0001)(230,0.0001)(256,0.0007)(257,0.0005)(258,0.0004)(259,0.0003)(260,0.0002)(261,0.0002)(262,0.0001)(263,0.0001)(283,0.0008)(284,0.0008)(285,0.0007)(286,0.0006)(287,0.0005)(288,0.0004)(289,0.0004)(290,0.0003)(291,0.0003)(292,0.0003)(293,0.0003)(301,0.0008)(302,0.0007)(303,0.0006)(304,0.0005)(305,0.0004)(306,0.0003)(307,0.0002)(308,0.0001)};
% MACD line
\addplot[macdc, line width=1.1pt, line join=round] coordinates {
(-0.29,-0.00060)(1.21,-0.00099)(3.22,-0.00123)(4.72,-0.00099)(6.22,-0.00051)(7.73,0.00022)(9.73,0.00065)(11.73,0.00101)(14.24,0.00101)(15.74,0.00077)(17.25,0.00053)(18.75,0.00036)(20.75,0.00029)(22.76,0.00022)(24.76,-0.00019)(26.56,-0.00056)(27.97,-0.00075)(29.27,-0.00036)(30.77,0.00065)(32.78,0.00157)(34.58,0.00234)(35.98,0.00270)(37.29,0.00239)(38.79,0.00229)(40.29,0.00181)(41.79,0.00114)(43.80,0.00053)(45.80,0.00022)(47.6,0.00029)(49.3,0.00036)(50.8,0.00053)(52.3,0.00114)(53.8,0.00138)(55.8,0.00138)(57.6,0.00157)(59.6,0.00167)(61.0,0.00114)(62.8,0.00065)(64.3,0.00094)(65.8,0.00118)(67.8,0.00150)(69.9,0.00133)(71.9,0.00142)(73.7,0.00133)(74.9,0.00101)(76.1,0.00041)(77.7,-0.00043)(79.9,-0.00116)(81.9,-0.00152)(83.9,-0.00188)(85.9,-0.00188)(87.9,-0.00188)(89.9,-0.00213)(91.4,-0.00321)(93.4,-0.00442)(95.9,-0.00551)(98.9,-0.00635)(100.9,-0.00563)(102.9,-0.00418)(105.4,-0.00309)(107.9,-0.00261)(110.9,-0.00213)(113.4,-0.00176)(115.9,-0.00068)(118.9,-0.00031)(121.5,-0.00012)(124.0,-0.00002)(127.0,0.00022)(129.0,0.00077)(132.0,0.00174)(134.5,0.00198)(136.5,0.00174)(138.0,0.00138)(140.0,0.00101)(142.0,0.00065)(144.0,0.00029)(146.0,-0.00056)(147.5,-0.00116)(149.0,-0.00099)(151.0,-0.00068)(153.0,-0.00051)(155.5,-0.00019)(157.1,0.00017)(160.1,0.00036)(163.1,0.00046)(165.6,0.00053)(168.6,0.00089)(171.1,0.00070)(173.6,0.00041)(175.6,-0.00019)(178.1,-0.00056)(180.2,-0.00036)(182.2,-0.00056)(184.2,-0.00056)(185.2,-0.00031)(186.7,-0.00140)(188.2,-0.00213)(190.2,-0.00273)(192.2,-0.00278)(194.2,-0.00292)(196.2,-0.00237)(198.2,-0.00164)(201.2,-0.00128)(203.2,-0.00092)(205.2,-0.00075)(207.2,-0.00085)(209.2,-0.00075)(211.2,-0.00007)(213.2,0.00029)(215.2,0.00053)(218.2,0.00077)(220.2,0.00101)(222.2,0.00109)(224.2,0.00101)(226.2,0.00085)(228.2,0.00089)(231.3,0.00089)(233.3,0.00077)(234.8,0.00005)(236.8,-0.00140)(238.3,-0.00200)(239.8,-0.00321)(241.3,-0.00442)(242.8,-0.00539)(244.1,-0.00568)(245.8,-0.00539)(247.8,-0.00490)(249.8,-0.00466)(251.3,-0.00430)(253.3,-0.00345)(255.3,-0.00285)(257.3,-0.00278)(259.3,-0.00297)(261.3,-0.00292)(263.3,-0.00297)(265.3,-0.00326)(267.3,-0.00297)(269.3,-0.00278)(271.3,-0.00213)(274.3,-0.00159)(276.3,-0.00092)(279.4,-0.00075)(281.4,-0.00019)(283.4,0.00065)(286.4,0.00089)(289.4,0.00109)(292.4,0.00101)(295.4,0.00150)(297.4,0.00162)(299.4,0.00234)(302.4,0.00312)(304.4,0.00350)(306.4,0.00350)(308.4,0.00331)(310.4,0.00284)};
% signal line
\addplot[sigc, line width=1.1pt, line join=round] coordinates {
(-0.29,-0.00051)(1.71,-0.00068)(3.72,-0.00085)(5.72,-0.00075)(7.73,-0.00051)(9.73,-0.00012)(12.74,0.00029)(15.74,0.00058)(17.75,0.00048)(20.75,0.00029)(23.76,0.00005)(26.76,-0.00027)(28.77,-0.00036)(30.77,-0.00007)(32.78,0.00065)(34.78,0.00126)(36.78,0.00174)(39.29,0.00191)(41.79,0.00174)(44.80,0.00118)(47.8,0.00070)(50.8,0.00048)(53.8,0.00077)(56.8,0.00106)(59.8,0.00133)(62.8,0.00118)(65.8,0.00094)(68.8,0.00109)(71.9,0.00114)(74.4,0.00114)(76.9,0.00053)(79.9,-0.00031)(82.4,-0.00092)(84.9,-0.00140)(87.9,-0.00164)(90.4,-0.00200)(92.9,-0.00297)(95.9,-0.00394)(98.9,-0.00490)(100.9,-0.00526)(102.9,-0.00490)(105.9,-0.00406)(108.9,-0.00328)(111.9,-0.00273)(114.9,-0.00188)(117.9,-0.00116)(120.9,-0.00068)(124.0,-0.00043)(127.0,-0.00019)(130.0,0.00029)(133.0,0.00089)(136.0,0.00142)(138.0,0.00145)(141.0,0.00118)(144.0,0.00077)(147.0,0.00017)(149.0,-0.00031)(151.0,-0.00051)(154.0,-0.00056)(155.1,-0.00051)(158.1,-0.00007)(161.1,0.00017)(164.1,0.00036)(167.1,0.00053)(170.1,0.00060)(173.1,0.00053)(176.1,0.00005)(179.1,-0.00027)(182.2,-0.00036)(185.2,-0.00043)(187.2,-0.00080)(189.7,-0.00152)(192.2,-0.00200)(195.2,-0.00244)(197.2,-0.00237)(200.2,-0.00200)(203.2,-0.00152)(206.2,-0.00116)(209.2,-0.00092)(212.2,-0.00068)(215.2,-0.00019)(218.2,0.00022)(221.2,0.00053)(224.2,0.00075)(227.2,0.00082)(233.3,0.00082)(235.3,0.00041)(238.3,-0.00080)(241.3,-0.00249)(243.3,-0.00357)(245.3,-0.00430)(247.3,-0.00454)(250.3,-0.00461)(252.3,-0.00430)(254.3,-0.00382)(256.3,-0.00345)(259.3,-0.00326)(262.3,-0.00309)(265.3,-0.00316)(268.3,-0.00297)(271.3,-0.00249)(274.3,-0.00196)(277.3,-0.00140)(280.4,-0.00099)(282.4,-0.00056)(285.4,0.00005)(288.4,0.00041)(291.4,0.00077)(294.4,0.00101)(297.4,0.00150)(300.4,0.00215)(303.4,0.00270)(306.4,0.00307)(308.4,0.00307)(310.4,0.00303)};
\end{axis}

% ---------------- frame and dividers ----------------
\draw[divc, line width=1.2pt] (0,-1) -- (2226,-1);
\draw[divc, line width=1.5pt] (0,-804) -- (2226,-804);
\draw[divc, line width=1.5pt] (0,-1016) -- (2226,-1016);
\draw[divc, line width=1.5pt] (0,-1270) -- (2226,-1270);
\draw[divc, line width=1.2pt] (2225,0) -- (2225,-1270);

% ---------------- value tags ----------------
\newcommand\tagbox[4]{%
  \fill[#1, rounded corners=2pt] (2081,-#2+17) rectangle (2081+#3,-#2-17);
  \node[anchor=west, text=white, font=\tagfont, inner sep=0pt] at (2100,-#2) {#4};}
\newcommand\ptag[3]{\draw[#1, line width=1.6pt] (2069,-#2) -- (2082,-#2);\tagbox{#1}{#2}{124}{#3}}
\ptag{dnc}{32}{1.36579}
\ptag{dnc}{184.7}{1.35514}
\ptag{dnc}{251.6}{1.35050}
\ptag{dnc}{320.3}{1.34569}
\ptag{dnc}{418.9}{1.33882}
\ptag{dnc}{488.7}{1.33396}
\ptag{upc}{591.7}{1.32678}
\ptag{upc}{769.1}{1.31442}
\tagbox{rsic}{880}{94}{59.30}
\tagbox{sigc}{1036}{124}{0.00303}
\tagbox{macdc}{1070}{124}{0.00284}
\tagbox{hr}{1112}{136}{−0.00019}

% ---------------- legends ----------------
\node[anchor=west, inner sep=0pt, font=\fontsize{12.4}{14}\selectfont, text=txt] at (17,-31)
 {(British Pound / US Dollar) - Live Exchange Rate \& Trend Chart, 4h\hspace{0.7em}O\textcolor{dnc}{1.33421}\hspace{0.7em}H\textcolor{dnc}{1.33454}\hspace{0.7em}L\textcolor{dnc}{1.33347}\hspace{0.7em}C\textcolor{dnc}{1.33396}\hspace{0.7em}\textcolor{dnc}{−0.00027 (−0.02\%)}};
\node[anchor=west, inner sep=0pt, font=\lblfont, text=txt] at (17,-836)
 {RSI (14)\hspace{0.7em}\textcolor{rsic}{59.30}};
\node[anchor=west, inner sep=0pt, font=\lblfont, text=txt] at (17,-1049)
 {MACD (12, 26, close, 9)\hspace{0.7em}\textcolor{hr}{−0.00019}\hspace{0.7em}\textcolor{macdc}{0.00284}\hspace{0.7em}\textcolor{sigc}{0.00303}};
\end{tikzpicture}
\end{document}
